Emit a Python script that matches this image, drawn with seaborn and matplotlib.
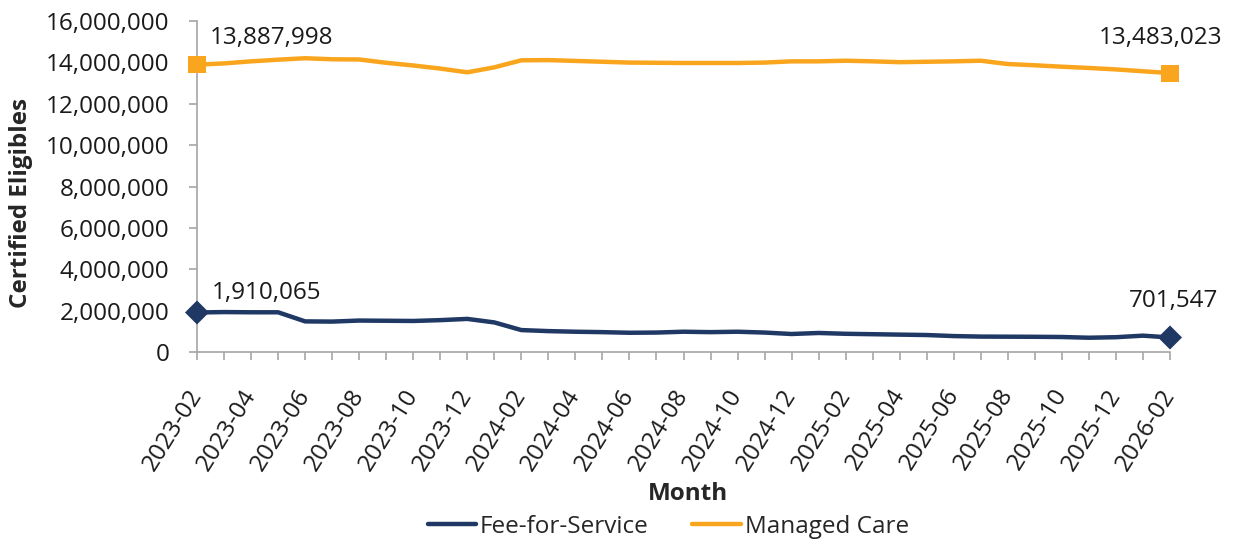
import matplotlib
matplotlib.use("Agg")
from matplotlib import pyplot as plt
import matplotlib.ticker as mtick
import pandas as pd
import seaborn as sns

months = list(pd.period_range("2023-02", "2026-02", freq="M").strftime("%Y-%m"))

fee_for_service = [1910065, 1930000, 1920000, 1920000, 1480000, 1470000, 1520000, 1510000,
                   1500000, 1540000, 1600000, 1430000, 1060000, 1010000, 980000, 960000,
                   930000, 940000, 980000, 960000, 980000, 940000, 870000, 920000,
                   880000, 860000, 840000, 820000, 770000, 745000, 740000, 735000,
                   725000, 690000, 715000, 790000, 701547]
managed_care = [13887998, 13950000, 14050000, 14130000, 14200000, 14150000, 14140000, 13980000,
                13850000, 13700000, 13520000, 13760000, 14100000, 14110000, 14070000, 14030000,
                13990000, 13980000, 13970000, 13970000, 13970000, 13990000, 14050000, 14050000,
                14080000, 14050000, 14010000, 14030000, 14050000, 14080000, 13920000, 13860000,
                13790000, 13730000, 13660000, 13570000, 13483023]

series_names = ["Fee-for-Service", "Managed Care"]
colors = {"Fee-for-Service": "#1F3864", "Managed Care": "#F9A61E"}

df = pd.DataFrame({"idx": range(len(months)), "month": months,
                   "Fee-for-Service": fee_for_service, "Managed Care": managed_care})
long_df = df.melt(id_vars=["idx", "month"], value_vars=series_names,
                  var_name="series", value_name="eligibles")

sns.set_style("white")
plt.rcParams["font.family"] = ["Open Sans", "DejaVu Sans"]
fs = 17.5

fig = plt.figure(figsize=(12.33, 5.44), dpi=100)
ax = fig.add_axes([197 / 1233, 1 - 352 / 544, 973 / 1233, 331 / 544])

sns.lineplot(data=long_df, x="idx", y="eligibles", hue="series", palette=colors,
             linewidth=3.2, ax=ax, legend=False)

# end point markers
ends = long_df[long_df["idx"].isin([0, len(months) - 1])]
sns.scatterplot(data=ends, x="idx", y="eligibles", hue="series", style="series",
                markers={"Fee-for-Service": "D", "Managed Care": "s"}, palette=colors,
                s=150, edgecolor="none", ax=ax, legend=False, clip_on=False, zorder=5)

# data labels
label_offsets = {
    ("Fee-for-Service", 0): (11, 14, "left"),
    ("Fee-for-Service", 1): (35, 26, "right"),
    ("Managed Care", 0): (9, 19, "left"),
    ("Managed Care", 1): (38, 25, "right"),
}
for name in series_names:
    vals = df[name].tolist()
    for k, i in enumerate([0, len(months) - 1]):
        dx, dy, ha = label_offsets[(name, k)]
        ax.annotate(f"{vals[i]:,}", xy=(i, vals[i]), xytext=(dx, dy),
                    textcoords="offset points", ha=ha, va="center", fontsize=fs,
                    color="#1a1a1a", annotation_clip=False)

ax.set_xlim(0, len(months) - 1)
ax.set_ylim(0, 16000000)
ax.yaxis.set_major_locator(mtick.MultipleLocator(2000000))
ax.yaxis.set_major_formatter(mtick.StrMethodFormatter("{x:,.0f}"))
ax.set_xticks(range(len(months)))
ax.set_xticklabels([m if i % 2 == 0 else "" for i, m in enumerate(months)],
                   rotation=58, ha="right", va="center", rotation_mode="anchor")

for side in ["top", "right"]:
    ax.spines[side].set_visible(False)
for side in ["left", "bottom"]:
    ax.spines[side].set_color("#A6A6A6")
    ax.spines[side].set_linewidth(1.2)
ax.tick_params(axis="both", which="major", direction="out", length=6, width=1.2,
               color="#A6A6A6", labelsize=fs, labelcolor="#1a1a1a", left=True, bottom=True)
ax.tick_params(axis="x", pad=22)
ax.tick_params(axis="y", pad=14)
ax.grid(False)

ax.set_ylabel("Certified Eligibles", fontsize=fs, fontweight="bold")
ax.yaxis.set_label_coords(-0.169, 0.45)
ax.set_xlabel("Month", fontsize=fs, fontweight="bold")
ax.xaxis.set_label_coords(0.505, -0.43)
ax.xaxis.label.set_va("center")

handles = [plt.Line2D([], [], color=colors[n], linewidth=3.2) for n in series_names]
fig.legend(handles, series_names, loc="center", bbox_to_anchor=(0.542, 0.032), ncol=2,
           frameon=False, fontsize=fs, handlelength=2.0, handletextpad=0.15,
           columnspacing=1.8)

fig.savefig("out.png", dpi=100)
